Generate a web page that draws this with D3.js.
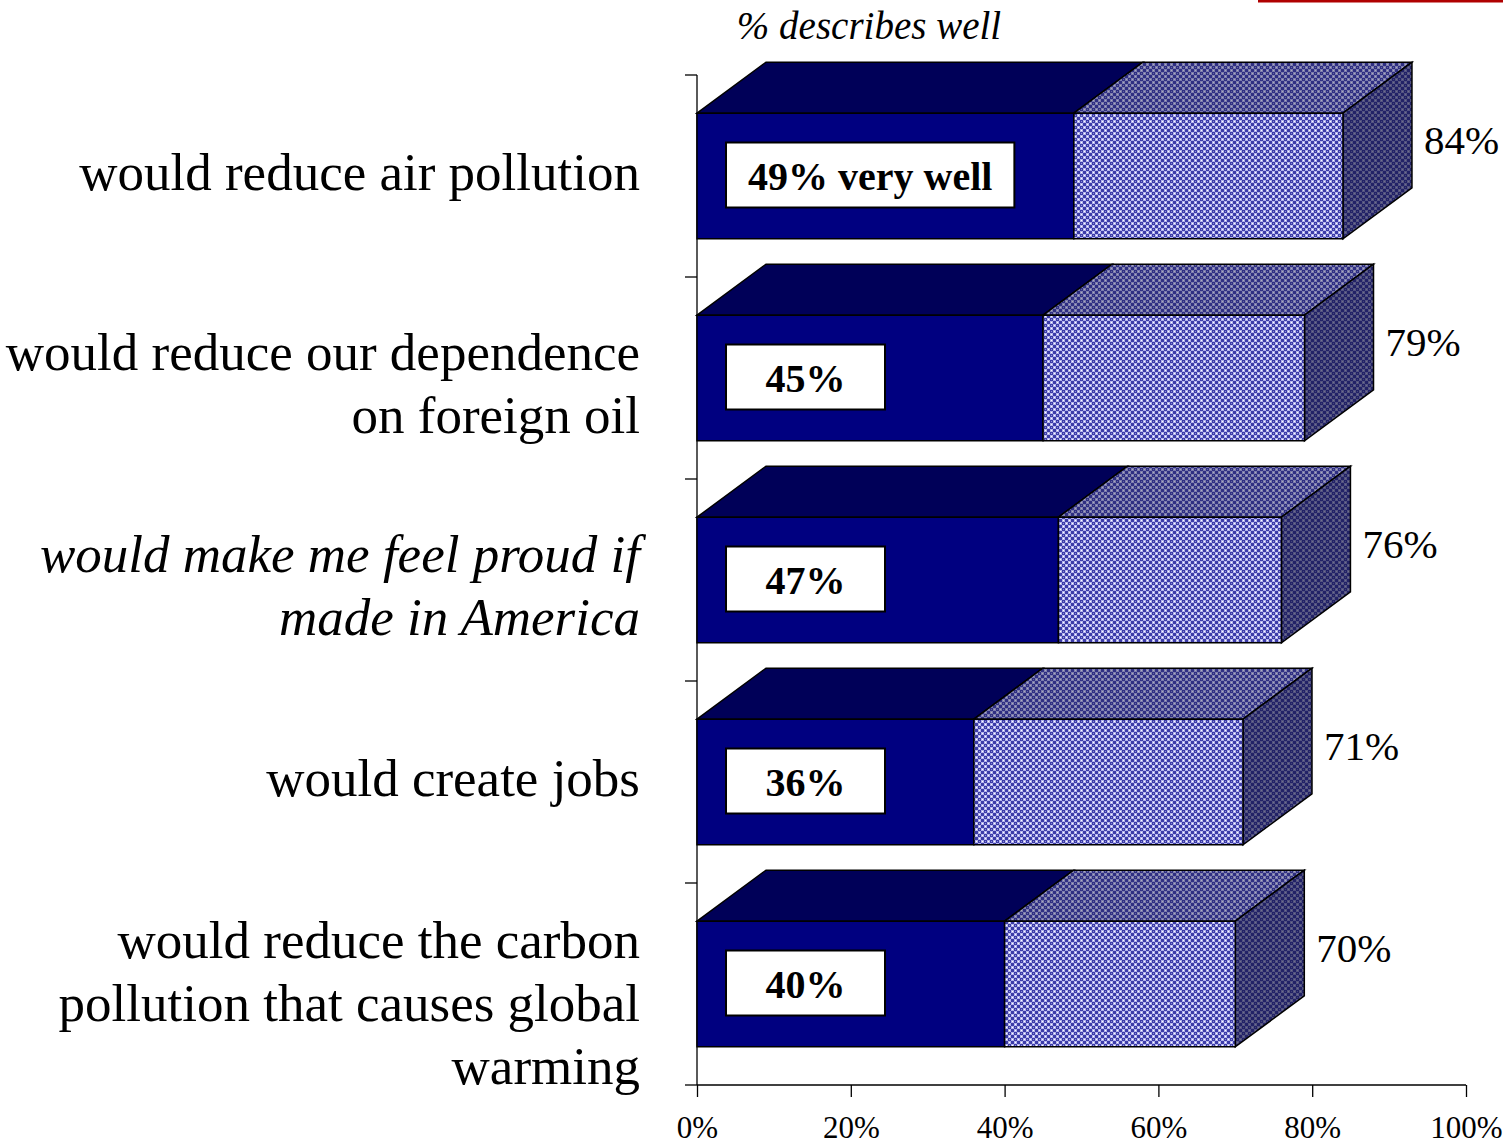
<!DOCTYPE html>
<html>
<head>
<meta charset="utf-8">
<script src="https://cdn.jsdelivr.net/npm/d3@7"></script>
<style>
  html, body { margin: 0; padding: 0; background: #fff; }
  svg { display: block; }
</style>
</head>
<body>
<svg id="chart" width="1503" height="1144"></svg>
<script>
// ---- data ----
const categories = [
  "would reduce air pollution",
  "would reduce our dependence on foreign oil",
  "would make me feel proud if made in America",
  "would create jobs",
  "would reduce the carbon pollution that causes global warming"
];
const categoryLines = [
  ["would reduce air pollution"],
  ["would reduce our dependence", "on foreign oil"],
  ["would make me feel proud if", "made in America"],
  ["would create jobs"],
  ["would reduce the carbon", "pollution that causes global", "warming"]
];
const categoryItalic = [false, false, true, false, false];
const veryWell = [49, 45, 47, 36, 40];
const describesWell = [84, 79, 76, 71, 70];
const boxLabels = ["49% very well", "45%", "47%", "36%", "40%"];
const tickValues = [0, 20, 40, 60, 80, 100];
const title = "% describes well";

// ---- layout ----
const svg = d3.select("#chart");
const serif = "'Liberation Serif', 'Times New Roman', serif";
const x = d3.scaleLinear().domain([0, 100]).range([697, 1466]);
const y = d3.scaleBand().domain(categories).range([75, 1085]).padding(0);
const barH = y.bandwidth() * 0.622;
const depth = { dx: 69, dy: 51 };

// pattern
const defs = svg.append("defs");
function makePattern(id, overlay, op) {
  const p = defs.append("pattern").attr("id", id)
    .attr("patternUnits", "userSpaceOnUse").attr("width", 6).attr("height", 6);
  p.append("rect").attr("width", 6).attr("height", 6).attr("fill", "#b4b4ec");
  p.append("rect").attr("x", 0).attr("y", 0).attr("width", 3).attr("height", 3).attr("fill", "#3c3ca8");
  p.append("rect").attr("x", 3).attr("y", 3).attr("width", 3).attr("height", 3).attr("fill", "#3c3ca8");
  p.append("rect").attr("x", 1).attr("y", 1).attr("width", 1).attr("height", 1).attr("fill", "#8e8ed8");
  p.append("rect").attr("x", 4).attr("y", 1).attr("width", 1).attr("height", 1).attr("fill", "#ffffff");
  p.append("rect").attr("x", 1).attr("y", 4).attr("width", 1).attr("height", 1).attr("fill", "#ffffff");
  if (overlay) p.append("rect").attr("width", 6).attr("height", 6).attr("fill", overlay).attr("opacity", op);
}
makePattern("patFront", null, 0);
makePattern("patTop", "#1a1a40", 0.36);
makePattern("patSide", "#10103a", 0.6);

// red rule top right
svg.append("line").attr("x1", 1258).attr("x2", 1503).attr("y1", 1).attr("y2", 1)
  .attr("stroke", "#b00000").attr("stroke-width", 3);

// title
svg.append("text").attr("x", 869).attr("y", 25).attr("text-anchor", "middle")
  .attr("dominant-baseline", "central")
  .attr("font-family", serif).attr("font-style", "italic").attr("font-size", 39)
  .text(title);

// axes
const bounds = categories.map(c => y(c)).concat([y.range()[1]]);
svg.append("g").selectAll("line").data(bounds).join("line")
  .attr("x1", x(0) - 12).attr("x2", x(0)).attr("y1", d => d).attr("y2", d => d)
  .attr("stroke", "#000").attr("stroke-width", 1.3);
svg.append("line").attr("x1", x(0)).attr("x2", x(0)).attr("y1", y.range()[0]).attr("y2", y.range()[1])
  .attr("stroke", "#000").attr("stroke-width", 1.3);

const xAxis = d3.axisBottom(x).tickValues(tickValues).tickFormat(d => d + "%").tickSize(12).tickPadding(19);
const xAxisG = svg.append("g").attr("transform", `translate(0,${y.range()[1]})`).call(xAxis);
xAxisG.select(".domain").attr("stroke", "#000").attr("stroke-width", 1.3).attr("d", `M${x(0)},0H${x(100)}`);
xAxisG.selectAll(".tick line").attr("stroke", "#000").attr("stroke-width", 1.3);
xAxisG.selectAll(".tick text").attr("font-family", serif).attr("font-size", 31).attr("fill", "#000")
  .attr("dy", "0.71em");

// bars
const bars = svg.append("g").selectAll("g").data(categories).join("g");
bars.each(function(c, i) {
  const g = d3.select(this);
  const yc = y(c) + y.bandwidth() / 2;
  const yt = yc - barH / 2, yb = yc + barH / 2;
  const x0 = x(0), xv = x(veryWell[i]), xt = x(describesWell[i]);
  const { dx, dy } = depth;
  function poly(pts, fill) {
    g.append("polygon").attr("points", pts.map(p => p.join(",")).join(" ")).attr("fill", fill)
      .attr("stroke", "#000").attr("stroke-width", 1.5);
  }
  // top faces
  poly([[x0, yt], [x0 + dx, yt - dy], [xv + dx, yt - dy], [xv, yt]], "#000058");
  poly([[xv, yt], [xv + dx, yt - dy], [xt + dx, yt - dy], [xt, yt]], "url(#patTop)");
  // side
  poly([[xt, yt], [xt + dx, yt - dy], [xt + dx, yb - dy], [xt, yb]], "url(#patSide)");
  // fronts
  poly([[x0, yt], [xv, yt], [xv, yb], [x0, yb]], "#000080");
  poly([[xv, yt], [xt, yt], [xt, yb], [xv, yb]], "url(#patFront)");

  // label box
  const t = g.append("text").attr("font-family", serif).attr("font-weight", "bold")
    .attr("font-size", 40).attr("text-anchor", "middle").attr("dominant-baseline", "central")
    .text(boxLabels[i]);
  const tw = t.node().getComputedTextLength();
  const bw = Math.max(159, tw + 44), bh = 65;
  const bx = x0 + 29;
  g.insert("rect", "text").attr("x", bx).attr("y", yc - bh / 2 - 1).attr("width", bw).attr("height", bh)
    .attr("fill", "#fff").attr("stroke", "#000").attr("stroke-width", 2);
  t.attr("x", bx + bw / 2).attr("y", yc);

  // total label
  g.append("text").attr("x", xt + dx + 12).attr("y", yc - 36)
    .attr("font-family", serif).attr("font-size", 41).attr("dominant-baseline", "central")
    .text(describesWell[i] + "%");
});

// category labels
const lineH = 63;
svg.append("g").selectAll("text").data(categories).join("text")
  .attr("text-anchor", "end").attr("font-family", serif).attr("font-size", 53)
  .attr("font-style", (d, i) => categoryItalic[i] ? "italic" : "normal")
  .attr("fill", "#000")
  .each(function(c, i) {
    const lines = categoryLines[i];
    const yc = y(c) + y.bandwidth() / 2 + (lines.length > 1 ? 5 : -4) + (lines.length > 2 ? 14 : 0);
    const top = yc - (lines.length - 1) * lineH / 2;
    d3.select(this).selectAll("tspan").data(lines).join("tspan")
      .attr("x", 640).attr("y", (l, k) => top + k * lineH).attr("dominant-baseline", "central")
      .text(l => l);
  });
</script>
</body>
</html>
